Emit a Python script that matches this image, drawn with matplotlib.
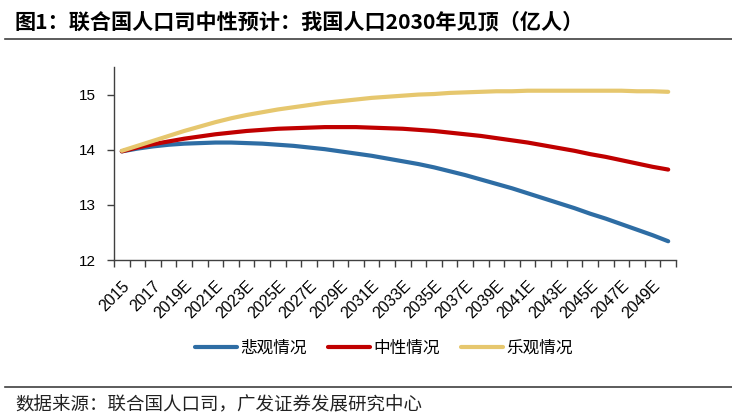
import numpy as np
import matplotlib
matplotlib.use("Agg")
import matplotlib.pyplot as plt
from matplotlib.lines import Line2D

plt.rcParams['font.family'] = ['Noto Sans CJK SC', 'DejaVu Sans']

years = [str(y) if y < 2018 else str(y) + 'E' for y in range(2015, 2051)]

# 悲观情况
low = [13.97, 14.02, 14.06, 14.09, 14.11, 14.12, 14.13, 14.13, 14.12, 14.11,
       14.09, 14.07, 14.04, 14.01, 13.97, 13.93, 13.89, 13.84, 13.79, 13.74,
       13.68, 13.61, 13.54, 13.46, 13.38, 13.30, 13.21, 13.12, 13.03, 12.94,
       12.84, 12.75, 12.65, 12.55, 12.45, 12.34]
# 中性情况
mid = [13.97, 14.04, 14.10, 14.15, 14.20, 14.24, 14.28, 14.31, 14.34, 14.36,
       14.38, 14.39, 14.40, 14.41, 14.41, 14.41, 14.40, 14.39, 14.38, 14.36,
       14.34, 14.31, 14.28, 14.25, 14.21, 14.17, 14.13, 14.08, 14.03, 13.98,
       13.92, 13.87, 13.81, 13.75, 13.69, 13.64]
# 乐观情况
high = [13.98, 14.07, 14.16, 14.25, 14.34, 14.42, 14.50, 14.57, 14.63, 14.68,
        14.73, 14.77, 14.81, 14.85, 14.88, 14.91, 14.94, 14.96, 14.98, 15.00,
        15.01, 15.03, 15.04, 15.05, 15.06, 15.06, 15.07, 15.07, 15.07, 15.07,
        15.07, 15.07, 15.07, 15.06, 15.06, 15.05]

series_names = ['悲观情况', '中性情况', '乐观情况']
colors = ['#2E6DA4', '#C00000', '#E6C76E']

fig = plt.figure(figsize=(7.32, 4.19), dpi=100)
ax = fig.add_axes([114/732, 1 - 260/419, (676 - 114)/732, (260 - 67)/419])

x = np.arange(len(years))
for vals, name, c in zip([low, mid, high], series_names, colors):
    ax.plot(x, vals, color=c, lw=3, label=name, solid_capstyle='round')

ax.set_xlim(-0.5, len(years) - 0.5)
ax.set_ylim(12, 15.5)
ax.set_yticks([12, 13, 14, 15])
ax.set_yticklabels(['12', '13', '14', '15'], family='Liberation Sans', fontsize=11)

ax.set_xticks(x[::2])
ax.set_xticklabels(years[::2], rotation=45, ha='right', rotation_mode='anchor',
                   family='Liberation Sans', fontsize=11.5)
ax.set_xticks(np.arange(-0.5, len(years)), minor=True)
ax.tick_params(axis='x', which='major', length=0, pad=13)
ax.tick_params(axis='x', which='minor', length=5, width=1, color='#404040')
ax.tick_params(axis='y', length=5, width=1, color='#404040', pad=8)

for s in ['top', 'right']:
    ax.spines[s].set_visible(False)
for s in ['left', 'bottom']:
    ax.spines[s].set_color('#404040')
    ax.spines[s].set_linewidth(1)

fig.legend(loc='center', bbox_to_anchor=(384/732, 1 - 348/419), ncol=3,
           frameon=False, fontsize=12, handlelength=2.5, handletextpad=0.2,
           columnspacing=1.3)

fig.text(15/732, 1 - 22/419, '图1：联合国人口司中性预计：我国人口2030年见顶（亿人）',
         fontsize=15.2, fontweight='bold', va='center', ha='left')
fig.add_artist(Line2D([5/732, 1], [1 - 39/419, 1 - 39/419], color='#404040', lw=1.2))
fig.add_artist(Line2D([5/732, 1], [1 - 387/419, 1 - 387/419], color='#404040', lw=1.2))
fig.text(15/732, 1 - 405/419, '数据来源：联合国人口司，广发证券发展研究中心',
         fontsize=13.3, va='center', ha='left', color='#222222')

fig.savefig('out.png', dpi=100)
